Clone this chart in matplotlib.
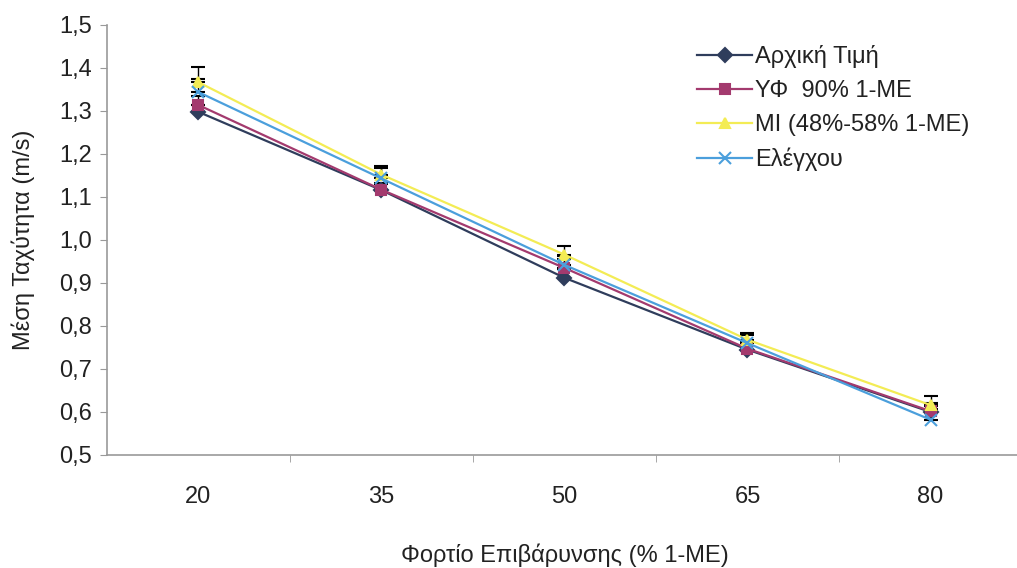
import matplotlib
matplotlib.use("Agg")
import matplotlib.pyplot as plt
from matplotlib.ticker import FuncFormatter, FixedLocator

plt.rcParams['font.family'] = ['Liberation Sans', 'DejaVu Sans']

loads = ['20', '35', '50', '65', '80']
arxiki = [1.298, 1.116, 0.912, 0.745, 0.600]
yf90 = [1.314, 1.117, 0.935, 0.747, 0.602]
mi = [1.367, 1.152, 0.966, 0.768, 0.616]
elegxou = [1.344, 1.143, 0.942, 0.760, 0.582]
err_arxiki = [0.015, 0.015, 0.020, 0.015, 0.015]
err_yf90 = [0.020, 0.015, 0.020, 0.015, 0.020]
err_mi = [0.035, 0.020, 0.020, 0.015, 0.020]
err_elegxou = [0.030, 0.025, 0.020, 0.020, 0.025]

labels = ['Αρχική Τιμή', 'ΥΦ  90% 1-ΜΕ', 'MI (48%-58% 1-ΜΕ)', 'Ελέγχου']
colors = ['#2f3d5c', '#a33a6e', '#f3ec55', '#4b9fdc']
markers = ['D', 's', '^', 'x']
series = [arxiki, yf90, mi, elegxou]
errs = [err_arxiki, err_yf90, err_mi, err_elegxou]

fs = 17
fig = plt.figure(figsize=(10.17, 5.68), dpi=100)
ax = fig.add_axes([0.105, 0.199, 0.9, 0.757])

x = range(len(loads))
for y, e, c, m, lab in zip(series, errs, colors, markers, labels):
    ax.errorbar(x, y, yerr=[[0]*len(e), e], fmt='none', ecolor='black',
                elinewidth=1, capsize=5, capthick=1.5, zorder=2)
    ax.plot(x, y, color=c, marker=m, markersize=7 if m != 'x' else 8,
            mew=1.5, lw=1.6, label=lab, zorder=3)

ax.set_xlim(-0.5, 4.5)
ax.set_ylim(0.5, 1.5)
ax.set_yticks([0.5 + 0.1*i for i in range(11)])
ax.yaxis.set_major_formatter(FuncFormatter(lambda v, p: f'{v:.1f}'.replace('.', ',')))
ax.set_xticks(list(x))
ax.set_xticklabels(loads)
ax.xaxis.set_minor_locator(FixedLocator([0.5, 1.5, 2.5, 3.5]))
ax.tick_params(axis='x', which='major', length=0, pad=22, labelsize=fs, labelcolor='#222222')
ax.tick_params(axis='x', which='minor', length=5, color='#999999')
ax.tick_params(axis='y', length=5, color='#999999', labelsize=fs, labelcolor='#222222', pad=6)

for s in ['top', 'right']:
    ax.spines[s].set_visible(False)
for s in ['left', 'bottom']:
    ax.spines[s].set_color('#999999')
    ax.spines[s].set_linewidth(1.2)

ax.set_ylabel('Μέση Ταχύτητα (m/s)', fontsize=fs, color='#222222')
ax.set_xlabel('Φορτίο Επιβάρυνσης (% 1-ΜΕ)', fontsize=fs, color='#222222')
ax.yaxis.set_label_coords(-0.078, 0.5)
ax.xaxis.set_label_coords(0.5, -0.205)

leg = ax.legend(loc='upper left', bbox_to_anchor=(0.635, 0.975), frameon=False,
                fontsize=fs, handlelength=2.3, handletextpad=0.15, labelspacing=0.5,
                borderaxespad=0)
for t in leg.get_texts():
    t.set_color('#222222')

fig.savefig('out.png', dpi=100)
